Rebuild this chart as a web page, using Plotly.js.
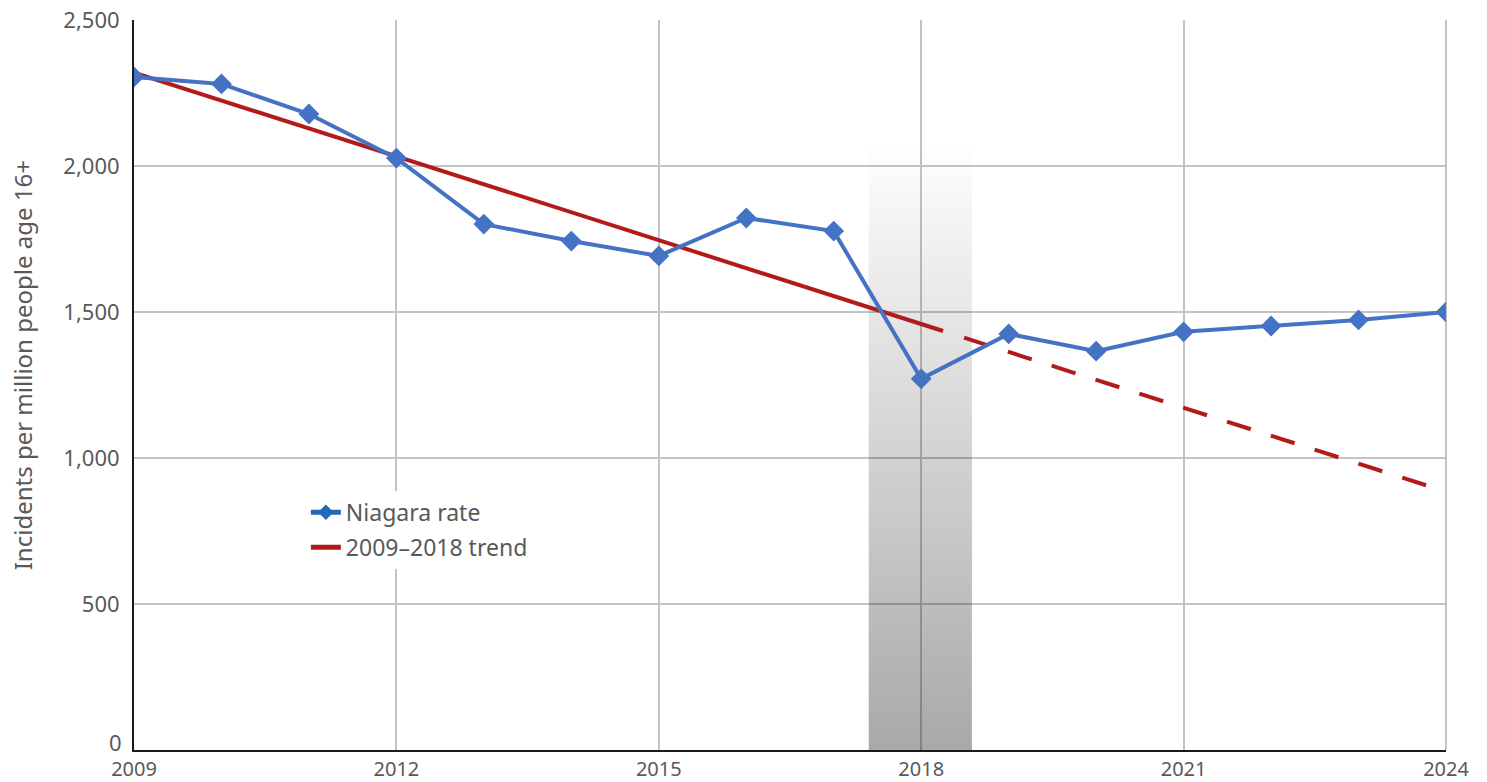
<!DOCTYPE html>
<html>
<head>
<meta charset="utf-8">
<script src="https://cdn.plot.ly/plotly-3.0.1.min.js"></script>
<style>html,body{margin:0;padding:0;background:#fff;}#chart{width:1487px;height:782px;}</style>
</head>
<body>
<div id="chart"></div>
<script>
// Data
const years = [2009, 2010, 2011, 2012, 2013, 2014, 2015, 2016, 2017, 2018, 2019, 2020, 2021, 2022, 2023, 2024];
const niagaraRate = [2305, 2281, 2178, 2027, 1801, 1743, 1692, 1822, 1777, 1271, 1425, 1366, 1432, 1452, 1473, 1500];

const trendSolidYears = [2009, 2018.25];
const trendSolidValues = [2320, 1435];
const trendDashYears = [2018.49, 2024];
const trendDashValues = [1412, 885];

const bandYears = [2017.40, 2018.58, 2018.58, 2017.40, 2017.40];
const bandValues = [0, 0, 2090, 2090, 0];

const xTicks = [2009, 2012, 2015, 2018, 2021, 2024];
const yTicks = [0, 500, 1000, 1500, 2000, 2500];
const yTickLabels = ['', '500', '1,000', '1,500', '2,000', '2,500'];
const yZeroLabel = '0';

const seriesNames = ['Niagara rate', '2009\u20132018 trend'];
const yTitle = 'Incidents per million people age 16+';

const FONT = 'Noto Sans, Open Sans, sans-serif';
const GREY_TEXT = '#595959';
const BLUE = '#4472C4';
const BLUE_LEGEND = '#2468B8';
const RED = '#B31B1B';

const traces = [
  {
    x: bandYears, y: bandValues, type: 'scatter', mode: 'lines',
    fill: 'toself', line: {width: 0, color: 'rgba(0,0,0,0)'},
    fillgradient: {type: 'vertical', colorscale: [[0, 'rgba(0,0,0,0.34)'], [1, 'rgba(0,0,0,0)']]},
    showlegend: false, hoverinfo: 'skip'
  },
  {
    x: trendSolidYears, y: trendSolidValues, type: 'scatter', mode: 'lines',
    line: {color: RED, width: 4}, showlegend: false
  },
  {
    x: trendDashYears, y: trendDashValues, type: 'scatter', mode: 'lines',
    line: {color: RED, width: 4, dash: '25px,21px'}, showlegend: false
  },
  {
    x: years, y: niagaraRate, type: 'scatter', mode: 'lines+markers',
    line: {color: BLUE, width: 4},
    marker: {symbol: 'diamond', size: 16, color: BLUE},
    showlegend: false
  },
  // legend entries
  {
    x: [null], y: [null], type: 'scatter', mode: 'lines+markers', name: seriesNames[0],
    legendgroup: 'a',
    line: {color: BLUE_LEGEND, width: 4},
    marker: {symbol: 'diamond', size: 16, color: BLUE_LEGEND}
  },
  {
    x: [null], y: [null], type: 'scatter', mode: 'lines', name: seriesNames[1],
    legendgroup: 'b',
    line: {color: RED, width: 4}
  }
];

const layout = {
  width: 1487, height: 782,
  margin: {l: 134, r: 41, t: 20, b: 32},
  paper_bgcolor: '#ffffff', plot_bgcolor: '#ffffff',
  font: {family: FONT, size: 22, color: GREY_TEXT},
  showlegend: true,
  legend: {
    x: 0.131, y: 0.355, xanchor: 'left', yanchor: 'top',
    bgcolor: '#ffffff', borderwidth: 0,
    font: {family: FONT, size: 23, color: GREY_TEXT},
    tracegroupgap: 2, itemsizing: 'constant'
  },
  xaxis: {
    range: [2009, 2024], tickvals: xTicks, ticktext: xTicks.map(String),
    showgrid: true, gridcolor: '#c4c4c4', gridwidth: 2,
    showline: true, linecolor: '#1a1a1a', linewidth: 2,
    zeroline: false, ticks: '', ticklen: 0, ticklabelstandoff: 0,
    tickfont: {family: FONT, size: 20, color: GREY_TEXT},
    fixedrange: true
  },
  yaxis: {
    range: [0, 2500], tickvals: yTicks, ticktext: yTickLabels,
    showgrid: true, gridcolor: '#c4c4c4', gridwidth: 2,
    showline: true, linecolor: '#1a1a1a', linewidth: 2,
    zeroline: false, ticks: '', ticklabelstandoff: 8,
    tickfont: {family: FONT, size: 22, color: GREY_TEXT},
    fixedrange: true
  },
  annotations: [
    {
      text: yZeroLabel, xref: 'paper', yref: 'y', x: 0, y: 0,
      xanchor: 'right', yanchor: 'middle', xshift: -10, yshift: 8, showarrow: false,
      font: {family: FONT, size: 22, color: GREY_TEXT}
    },
    {
      text: yTitle, xref: 'paper', yref: 'paper', x: 0, y: 0.527,
      xanchor: 'center', yanchor: 'middle', xshift: -112, textangle: -90, showarrow: false,
      font: {family: FONT, size: 24, color: GREY_TEXT}
    }
  ],
  shapes: [
    {type: 'line', xref: 'paper', yref: 'paper', x0: 1, x1: 1, y0: 0, y1: 1, layer: 'below', line: {color: '#c4c4c4', width: 2}}
  ]
};

Plotly.newPlot('chart', traces, layout, {displayModeBar: false, staticPlot: true});
</script>
</body>
</html>
